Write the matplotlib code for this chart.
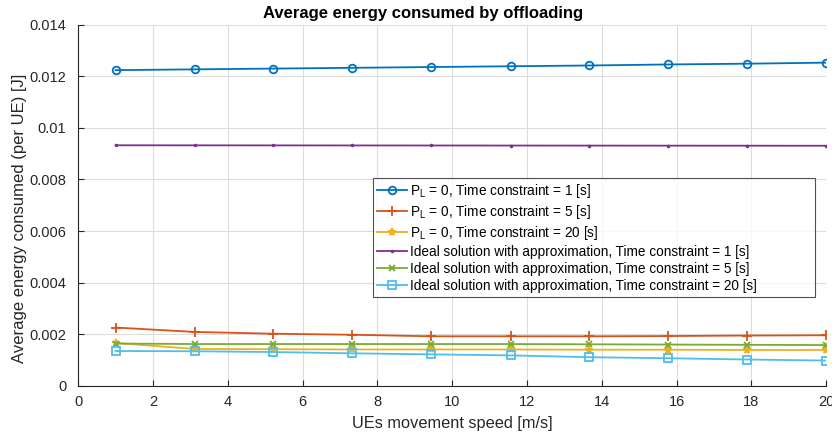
import numpy as np
import matplotlib
matplotlib.use("Agg")
import matplotlib.pyplot as plt

plt.rcParams['font.family'] = ['Liberation Sans', 'DejaVu Sans']
plt.rcParams['mathtext.fontset'] = 'custom'
plt.rcParams['mathtext.rm'] = 'Liberation Sans'
plt.rcParams['mathtext.it'] = 'Liberation Sans'

# UE movement speeds [m/s]
speed = [1.0, 3.11, 5.22, 7.33, 9.44, 11.56, 13.67, 15.78, 17.89, 20.0]

# Average energy consumed per UE [J]
pl0_t1 = [0.01224, 0.01227, 0.01230, 0.01233, 0.01236, 0.01239, 0.01242, 0.01246, 0.01249, 0.01253]
pl0_t5 = [0.00226, 0.00209, 0.00202, 0.00198, 0.00192, 0.00192, 0.00192, 0.00193, 0.00195, 0.00196]
pl0_t20 = [0.00166, 0.00143, 0.00142, 0.00141, 0.00141, 0.00141, 0.00140, 0.00140, 0.00139, 0.00139]
ideal_t1 = [0.009326, 0.009324, 0.009322, 0.009320, 0.009318, 0.009316, 0.009314, 0.009312, 0.009310, 0.009308]
ideal_t5 = [0.00164, 0.00162, 0.00162, 0.00162, 0.00162, 0.00162, 0.00161, 0.00160, 0.00159, 0.00158]
ideal_t20 = [0.00135, 0.00134, 0.00131, 0.00126, 0.00122, 0.00118, 0.00111, 0.00107, 0.00102, 0.00098]

labels = [
    r'P$_\mathregular{L}$ = 0, Time constraint = 1 [s]',
    r'P$_\mathregular{L}$ = 0, Time constraint = 5 [s]',
    r'P$_\mathregular{L}$ = 0, Time constraint = 20 [s]',
    'Ideal solution with approximation, Time constraint = 1 [s]',
    'Ideal solution with approximation, Time constraint = 5 [s]',
    'Ideal solution with approximation, Time constraint = 20 [s]',
]

series = [pl0_t1, pl0_t5, pl0_t20, ideal_t1, ideal_t5, ideal_t20]
colors = ['#0072BD', '#D95319', '#EDB120', '#7E2F8E', '#77AC30', '#4DBEEE']
markers = ['o', '+', '*', '.', 'x', 's']
msizes = [5.5, 6.5, 5.5, 2.5, 4.5, 5.5]

fig = plt.figure(figsize=(8.32, 4.34), dpi=100)
ax = fig.add_axes([0.094, 0.111, 0.899, 0.832])

for y, c, m, ms, lab in zip(series, colors, markers, msizes, labels):
    ax.plot(speed, y, color=c, marker=m, markersize=ms, linewidth=1.3,
            markerfacecolor='none', markeredgewidth=1.3, label=lab)

ax.set_xlim(0, 20)
ax.set_ylim(0, 0.014)
ax.set_xticks(np.arange(0, 21, 2))
ax.set_yticks([0, 0.002, 0.004, 0.006, 0.008, 0.01, 0.012, 0.014])
ax.set_yticklabels(['0', '0.002', '0.004', '0.006', '0.008', '0.01', '0.012', '0.014'])

ax.grid(True, color='#dcdcdc', linewidth=0.8)
ax.set_axisbelow(True)
for s in ['top', 'right']:
    ax.spines[s].set_visible(False)
for s in ['left', 'bottom']:
    ax.spines[s].set_color('#262626')
    ax.spines[s].set_linewidth(0.8)
ax.tick_params(direction='in', length=4, width=0.8, colors='#262626',
               labelsize=10.5)
ax.tick_params(axis='x', pad=6.5)
ax.tick_params(axis='y', pad=8.5)

ax.set_xlabel('UEs movement speed [m/s]', fontsize=11.8, color='#262626', labelpad=5)
ax.set_ylabel('Average energy consumed (per UE) [J]', fontsize=12, color='#262626', labelpad=2)
ax.yaxis.label.set_y(0.463)
ax.set_title('Average energy consumed by offloading', fontsize=12, fontweight='bold',
             pad=5, x=0.461)

leg = ax.legend(loc='upper left', bbox_to_anchor=(0.394, 0.0, 0.591, 0.576),
                mode='expand', fontsize=9.8,
                frameon=True, fancybox=False, edgecolor='#262626',
                borderaxespad=0, handlelength=2.2, handletextpad=0.25,
                labelspacing=0.22, borderpad=0.3)
leg.get_frame().set_linewidth(0.8)

fig.savefig('out.png', dpi=100)
